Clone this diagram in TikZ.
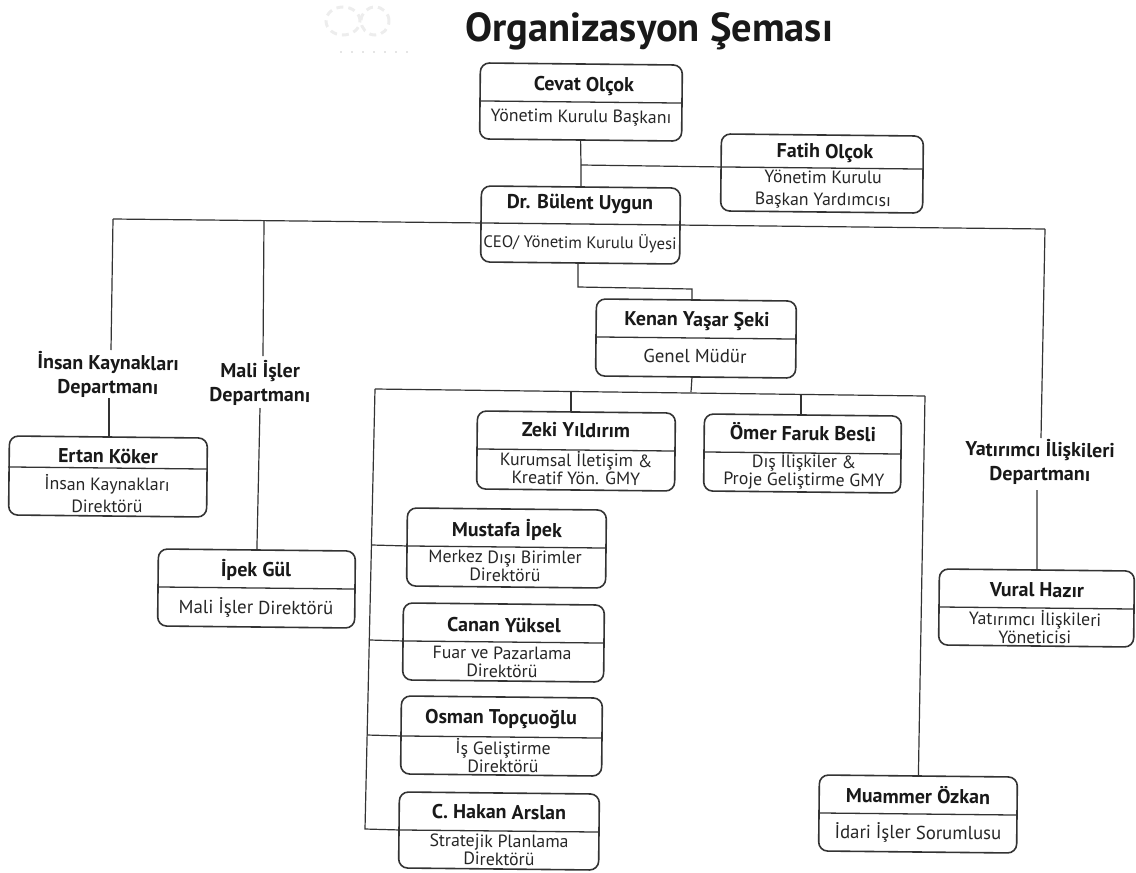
\documentclass[tikz,border=0pt]{standalone}
\usepackage{fontspec}
\setmainfont{PT Sans}
\usetikzlibrary{calc}
\definecolor{ink}{HTML}{333333}
\tikzset{
  x=1pt,y=1pt,
  boxshape/.style={draw=ink,line width=1.6pt,rounded corners=9pt,rotate=-0.6,inner sep=0pt},
  conn/.style={draw=ink,line width=1.2pt},
  divline/.style={draw=ink,line width=1.3pt},
  titletext/.style={font=\fontsize{20}{20}\selectfont\bfseries,text=black!90,inner sep=0pt,rotate=-0.6},
  subtext/.style={font=\fontsize{17.8}{18}\selectfont,text=black!85,align=center,inner sep=0pt,rotate=-0.6},
  subwide/.style={subtext,font=\fontsize{17.8}{22}\selectfont},
  subbig/.style={subtext,font=\fontsize{18.8}{18}\selectfont},
  subsmall/.style={subtext,font=\fontsize{16.7}{18}\selectfont},
  dept/.style={font=\fontsize{20}{24}\selectfont\bfseries,text=black!90,align=center,inner sep=0pt,rotate=-0.6},
  logomark/.style={draw=black!7,line width=3pt,dash pattern=on 7pt off 5pt},
}
\newcommand\orgbox[6]{%
  \pgfmathsetmacro\bw{#4-#2}\pgfmathsetmacro\bh{#5-#3}%
  \pgfmathsetmacro\bx{(#2+#4)/2}\pgfmathsetmacro\by{-(#3+#5)/2}%
  \node[boxshape,minimum width=\bw pt,minimum height=\bh pt] (#1) at (\bx,\by) {};
  \pgfmathsetmacro\dy{-#6}%
  \coordinate (#1-dl) at ($(#1.west)+(0,\dy-\by)$);
  \coordinate (#1-dr) at ($(#1.east)+(0,\dy-\by)$);
  \draw[divline] (#1-dl) -- (#1-dr);
}
\begin{document}
\begin{tikzpicture}
\useasboundingbox (0,0) rectangle (1136,-873);
% faint logo
\draw[logomark] (343,-21) ellipse (17 and 14);
\draw[logomark] (375,-21) ellipse (14 and 14);
\draw[draw=black!10,line width=2pt,dash pattern=on 2pt off 9pt] (340,-52) -- (415,-52);
\node[font=\fontsize{40.5}{41}\selectfont\bfseries,text=black!90,inner sep=0pt,anchor=west] (title) at (465,-31) {Organizasyon Şeması};

\orgbox{cevat}{480}{64}{682}{140}{102}
\orgbox{fatih}{721}{135}{923}{212}{168}
\orgbox{bulent}{481}{187}{680}{263}{224}
\orgbox{kenan}{596}{300}{796}{377}{338}
\orgbox{zeki}{477}{412}{675}{490}{450}
\orgbox{omer}{704}{415}{901}{492}{453}
\orgbox{ertan}{9}{437}{207}{516}{468}
\orgbox{ipek}{158}{550}{355}{627}{588}
\orgbox{mustafa}{407}{509}{606}{587}{547}
\orgbox{canan}{403}{604}{604}{681}{642}
\orgbox{osman}{401}{697}{602}{775}{737}
\orgbox{hakan}{399}{793}{599}{869}{831}
\orgbox{vural}{939}{570}{1134}{646}{608}
\orgbox{muammer}{819}{776}{1017}{852}{814}

\node[titletext] (t1) at (584,-86) {Cevat Olçok};
\node[subtext] (s1) at (581,-118) {Yönetim Kurulu Başkanı};
\node[titletext] (t2) at (825,-153) {Fatih Olçok};
\node[subwide] (s2) at (823,-190) {Yönetim Kurulu\\Başkan Yardımcısı};
\node[titletext] (t3) at (580,-204) {Dr. Bülent Uygun};
\node[subsmall] (s3) at (580,-243) {CEO/ Yönetim Kurulu Üyesi};
\node[titletext] (t4) at (697,-321) {Kenan Yaşar Şeki};
\node[subbig] (s4) at (695,-356) {Genel Müdür};
\node[titletext] (t5) at (576,-430) {Zeki Yıldırım};
\node[subtext] (s5) at (576,-468) {Kurumsal İletişim \&\\Kreatif  Yön. GMY};
\node[titletext] (t6) at (803,-432) {Ömer Faruk Besli};
\node[subtext] (s6) at (804,-471) {Dış İlişkiler \&\\Proje Geliştirme GMY};
\node[titletext] (t7) at (108,-456) {Ertan Köker};
\node[subwide] (s7) at (107,-494) {İnsan Kaynakları\\Direktörü};
\node[titletext] (t8) at (256,-570) {İpek Gül};
\node[subbig] (s8) at (256,-608) {Mali İşler Direktörü};
\node[titletext] (t9) at (507,-530) {Mustafa İpek};
\node[subtext] (s9) at (505,-566) {Merkez Dışı Birimler\\Direktörü};
\node[titletext] (t10) at (504,-625) {Canan Yüksel};
\node[subtext] (s10) at (502,-662) {Fuar ve Pazarlama\\Direktörü};
\node[titletext] (t11) at (501,-719) {Osman Topçuoğlu};
\node[subtext] (s11) at (503,-756) {İş Geliştirme\\Direktörü};
\node[titletext] (t12) at (499,-812) {C. Hakan Arslan};
\node[subtext] (s12) at (499,-850) {Stratejik Planlama\\Direktörü};
\node[titletext] (t13) at (1037,-590) {Vural Hazır};
\node[subtext] (s13) at (1035,-627) {Yatırımcı İlişkileri\\Yöneticisi};
\node[titletext] (t14) at (918,-795) {Muammer Özkan};
\node[subbig] (s14) at (918,-833) {İdari İşler Sorumlusu};

\node[dept] (d1) at (108,-375) {İnsan Kaynakları\\Departmanı};
\node[dept] (d2) at (260,-383) {Mali İşler\\Departmanı};
\node[dept] (d3) at (1040,-462) {Yatırımcı İlişkileri\\Departmanı};

\coordinate (a1) at (581,-165);
\draw[conn] (cevat.south) -- (a1) -- (bulent.north);
\draw[conn] (a1) -- (fatih-dl);
\coordinate (hl) at (113,-219);
\coordinate (hm) at (264,-221);
\coordinate (hr) at (1045,-229);
\draw[conn] (hl) -- (bulent-dl) (bulent-dr) -- (hr);
\coordinate (d1t) at (111,-350);
\coordinate (d1b) at (109,-398);
\draw[conn] (hl) -- (d1t);
\draw[conn] (d1b) -- (ertan.north -| d1b);
\coordinate (d2t) at (263,-356);
\coordinate (d2b) at (260,-408);
\draw[conn] (hm) -- (d2t);
\draw[conn] (d2b) -- (ipek.north);
\coordinate (d3t) at (1041,-438);
\coordinate (d3b) at (1037,-490);
\draw[conn] (hr) -- (d3t);
\draw[conn] (d3b) -- (vural.north);
\coordinate (b1) at (578,-263);
\coordinate (b2) at (578,-287);
\coordinate (b3) at (692,-289);
\coordinate (b4) at (692,-300);
\draw[conn] (b1) -- (b2) -- (b3) -- (b4);
\coordinate (k1) at (692,-377);
\coordinate (k2) at (691,-392);
\draw[conn] (k1) -- (k2);
\coordinate (kl) at (375,-389);
\coordinate (kr) at (925,-396);
\draw[conn] (kl) -- (kr);
\coordinate (z1) at (571,-391);
\coordinate (z2) at (571,-412);
\coordinate (o1) at (801,-394);
\coordinate (o2) at (801,-415);
\draw[conn] (z1) -- (z2);
\draw[conn] (o1) -- (o2);
\draw[conn] (kr) -- (muammer.north);
\coordinate (kb) at (365,-829);
\draw[conn] (kl) -- (kb) -- (hakan-dl);
\coordinate (m1) at (372,-545);
\coordinate (m2) at (370,-640);
\coordinate (m3) at (367,-735);
\draw[conn] (m1) -- (mustafa-dl);
\draw[conn] (m2) -- (canan-dl);
\draw[conn] (m3) -- (osman-dl);
\end{tikzpicture}
\end{document}
